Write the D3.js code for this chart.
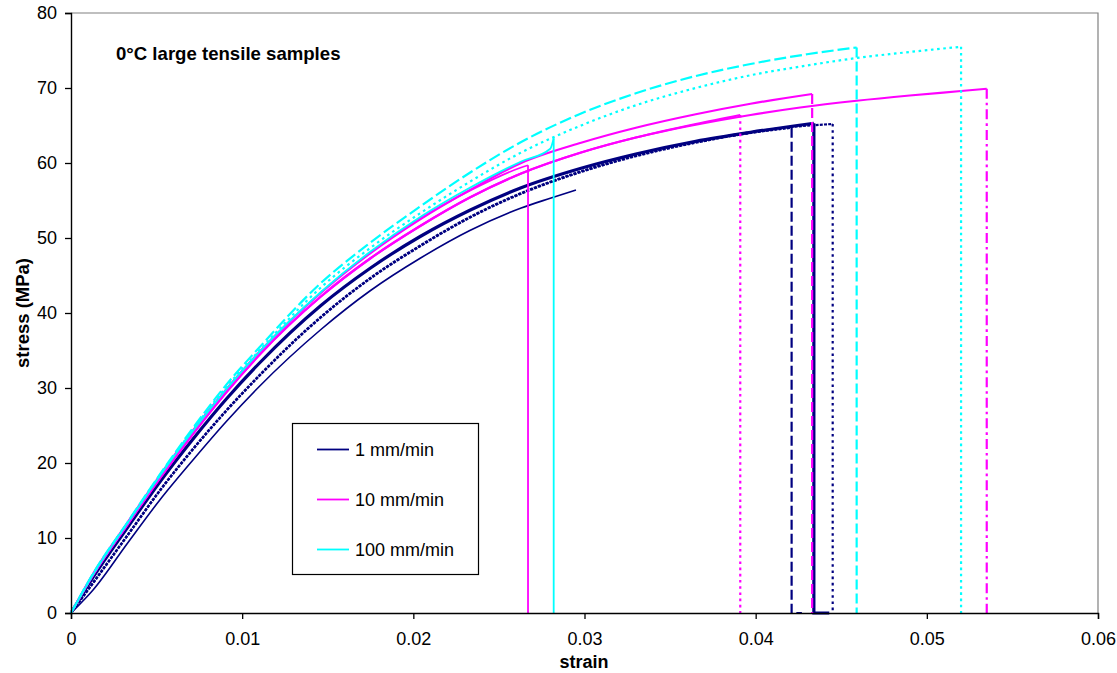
<html>
<script src='https://d3js.org/d3.v7.min.js'></script>
<style>
body {margin: 0; background: white;}
text {font-family: 'Liberation Sans', Arial, sans-serif;}
.tick text {font-size: 18px; fill: black;}
.tick line {stroke: black;}
.domain {stroke: black;}
</style>
<body>
<svg width=1117 height=673></svg>
<script>
// x ticks / y ticks
var xTicks = [0, 0.01, 0.02, 0.03, 0.04, 0.05, 0.06];
var yTicks = [0, 10, 20, 30, 40, 50, 60, 70, 80];

// legend groups
var rates = ["1 mm/min", "10 mm/min", "100 mm/min"];

// 1 mm/min, thick solid trace
var navyA = [[0,0],[0.0013,4.8],[0.0033,11.4],[0.0052,17.5],[0.0072,23.4],[0.0091,28.6],[0.011,33.3],[0.0146,41.0],[0.0175,46.0],[0.0204,50.2],[0.0233,53.7],[0.0263,56.7],[0.0298,59.3],[0.033,61.2],[0.0365,62.9],[0.0397,64.1],[0.0434,65.3],[0.0434,0],[0.0443,0]];
// 1 mm/min, dashed trace
var navyB = [[0,0],[0.0013,4.0],[0.0033,10.3],[0.0052,16.3],[0.0072,22.0],[0.0091,27.0],[0.011,31.6],[0.0146,39.4],[0.0175,44.6],[0.0204,48.9],[0.0233,52.7],[0.0263,55.9],[0.0298,58.8],[0.033,60.9],[0.0365,62.7],[0.0397,64.0],[0.0421,64.7],[0.0421,0],[0.0427,0]];
// 1 mm/min, dotted trace
var navyC = [[0,0],[0.0013,4.1],[0.0033,10.4],[0.0052,16.4],[0.0072,22.1],[0.0091,27.1],[0.011,31.7],[0.0146,39.5],[0.0175,44.7],[0.0204,49.0],[0.0233,52.8],[0.0263,56.0],[0.0298,58.9],[0.033,61.0],[0.0365,62.8],[0.0397,64.1],[0.0421,64.8],[0.0445,65.2],[0.0445,0]];
// 1 mm/min, thin trace (no break recorded)
var navyD = [[0,0],[0.0013,3.1],[0.0033,9.3],[0.0052,15.1],[0.0072,20.6],[0.0091,25.6],[0.011,30.2],[0.0146,37.8],[0.0175,43.0],[0.0204,47.3],[0.0233,51.0],[0.0263,54.0],[0.028,55.3],[0.0295,56.4]];

// 10 mm/min
var magE = [[0,0],[0.0013,5.2],[0.0033,12.0],[0.0052,18.3],[0.0072,24.5],[0.0091,29.9],[0.011,34.8],[0.0146,42.7],[0.0175,48.0],[0.0204,52.5],[0.0233,56.4],[0.0263,60.0],[0.0298,62.7],[0.033,64.7],[0.0365,66.5],[0.0397,67.9],[0.0433,69.2],[0.0433,0]];
var magF = [[0,0],[0.0013,5.3],[0.0033,12.1],[0.0052,18.4],[0.0072,24.6],[0.0091,29.9],[0.011,34.8],[0.0146,42.7],[0.0175,48.1],[0.0204,52.6],[0.0233,56.3],[0.0263,59.4],[0.0267,59.7],[0.0267,0]];
var magG = [[0,0],[0.0013,5.1],[0.0033,11.8],[0.0052,18.0],[0.0072,24.1],[0.0091,29.5],[0.011,34.4],[0.0146,42.2],[0.0175,47.3],[0.0204,51.6],[0.0233,55.4],[0.0263,58.6],[0.0298,61.4],[0.033,63.4],[0.0365,65.2],[0.0391,66.4],[0.0391,0]];
var magH = [[0,0],[0.0013,5.1],[0.0033,11.8],[0.0052,18.0],[0.0072,24.1],[0.0091,29.5],[0.011,34.4],[0.0146,42.2],[0.0175,47.3],[0.0204,51.6],[0.0233,55.4],[0.0263,58.6],[0.0298,61.4],[0.033,63.4],[0.0365,65.1],[0.0397,66.4],[0.0426,67.4],[0.0459,68.3],[0.049,69.0],[0.052,69.6],[0.0535,69.9],[0.0535,0]];

// 100 mm/min
var cyanI = [[0,0],[0.0013,5.2],[0.0033,12.0],[0.0052,18.3],[0.0072,24.5],[0.0091,29.9],[0.011,34.8],[0.0146,42.8],[0.0175,48.2],[0.0204,52.8],[0.0233,56.7],[0.0263,60.2],[0.028,61.9],[0.0282,63.3],[0.0282,0]];
var cyanJ = [[0,0],[0.0013,5.3],[0.0033,12.1],[0.0052,18.5],[0.0072,24.9],[0.0091,30.5],[0.011,35.4],[0.0146,44.0],[0.0175,49.4],[0.0204,54.2],[0.0233,58.7],[0.0263,62.8],[0.0298,66.6],[0.033,69.3],[0.0365,71.6],[0.0397,73.2],[0.043,74.5],[0.0459,75.4],[0.0459,0]];
var cyanK = [[0,0],[0.0013,5.2],[0.0033,12.0],[0.0052,18.4],[0.0072,24.7],[0.0091,30.2],[0.011,35.0],[0.0146,43.4],[0.0175,48.7],[0.0204,53.3],[0.0233,57.5],[0.0263,61.4],[0.0298,65.0],[0.033,67.7],[0.0365,70.0],[0.0397,71.7],[0.043,73.0],[0.0459,74.0],[0.049,74.8],[0.052,75.5],[0.052,0]];

var navy = "#000080", magenta = "#FF00FF", cyan = "#00FFFF";
var DASH = "10,4", DOT = "2.6,3.6", DASHDOT = "10,4,2.6,4", HATCH = "3,1.2";

// curveDash: pattern on the loading part, dash: pattern on the break
var series = [
  {pts: navyD, color: navy, w: 1.6, curveDash: null, dash: null},
  {pts: navyB, color: navy, w: 2.2, curveDash: HATCH, dash: DASH},
  {pts: navyC, color: navy, w: 2.2, curveDash: HATCH, dash: DOT},
  {pts: navyA, color: navy, w: 3.2, curveDash: null, dash: null},
  {pts: magG, color: magenta, w: 2.2, curveDash: null, dash: DOT},
  {pts: magH, color: magenta, w: 2.2, curveDash: null, dash: DASHDOT},
  {pts: magF, color: magenta, w: 1.8, curveDash: null, dash: null},
  {pts: magE, color: magenta, w: 2.2, curveDash: null, dash: DASH},
  {pts: cyanK, color: cyan, w: 2.2, curveDash: DOT, dash: DOT},
  {pts: cyanJ, color: cyan, w: 2.2, curveDash: "12,4", dash: DASH},
  {pts: cyanI, color: cyan, w: 1.8, curveDash: null, dash: null}
];

var svg = d3.select("svg");

var x = d3.scaleLinear().domain([0, 0.06]).range([71, 1098]);
var y = d3.scaleLinear().domain([0, 80]).range([613, 13]);

// plot area frame (top/right grey)
svg.append("path")
  .attr("d", "M" + x(0) + "," + y(80) + "H" + x(0.06) + "V" + y(0))
  .attr("fill", "none")
  .attr("stroke", "#808080")
  .attr("stroke-width", 1.2);

// split each trace into loading part and break part
function breakIndex(pts) {
  for (var i = 1; i < pts.length; i++) {
    if (pts[i][0] <= pts[i-1][0]) return i;
  }
  return pts.length;
}
var smooth = d3.line().x(d => x(d[0])).y(d => y(d[1])).curve(d3.curveMonotoneX);
var straight = d3.line().x(d => x(d[0])).y(d => y(d[1]));

var traces = svg.append("g");
series.forEach(function(s) {
  var k = breakIndex(s.pts);
  traces.append("path")
    .attr("d", smooth(s.pts.slice(0, k)))
    .attr("fill", "none")
    .attr("stroke", s.color)
    .attr("stroke-width", s.w)
    .attr("stroke-dasharray", s.curveDash)
    .attr("stroke-linejoin", "round");
  if (k < s.pts.length) {
    traces.append("path")
      .attr("d", straight(s.pts.slice(k - 1)))
      .attr("fill", "none")
      .attr("stroke", s.color)
      .attr("stroke-width", s.w)
      .attr("stroke-dasharray", s.dash);
  }
});

// axes
svg.append("g")
  .attr("transform", "translate(71,0)")
  .call(d3.axisLeft(y).tickValues(yTicks).tickSize(6).tickPadding(8).tickFormat(d3.format("d")));
svg.append("g")
  .attr("transform", "translate(0,613)")
  .call(d3.axisBottom(x).tickValues(xTicks).tickSize(6).tickPadding(13).tickFormat(d => d === 0 ? "0" : d3.format(".2f")(d)));

svg.selectAll(".domain").attr("stroke-width", 1.4);
svg.selectAll(".tick line").attr("stroke-width", 1.3);

// labels
svg.append("text")
  .attr("x", 584).attr("y", 668)
  .attr("text-anchor", "middle")
  .attr("font-weight", "bold").attr("font-size", "18px")
  .text("strain");
svg.append("text")
  .attr("transform", "translate(29,313) rotate(-90)")
  .attr("text-anchor", "middle")
  .attr("font-weight", "bold").attr("font-size", "18.5px")
  .text("stress (MPa)");
svg.append("text")
  .attr("x", 116).attr("y", 60)
  .attr("font-weight", "bold").attr("font-size", "18.6px")
  .text("0\u00B0C large tensile samples");

// legend
var legend = svg.append("g");
legend.append("rect")
  .attr("x", 292.5).attr("y", 423.5).attr("width", 186).attr("height", 151)
  .attr("fill", "white").attr("stroke", "black").attr("stroke-width", 1.2);
var legendColors = [navy, magenta, cyan];
legend.selectAll("g.item")
  .data(rates)
  .enter()
  .append("g")
    .attr("class", "item")
    .attr("transform", (d, i) => "translate(317," + (449.5 + i * 50) + ")")
    .each(function(d, i) {
      var g = d3.select(this);
      g.append("line").attr("x1", 0).attr("x2", 32).attr("y1", 0).attr("y2", 0)
        .attr("stroke", legendColors[i]).attr("stroke-width", 1.8);
      g.append("text").attr("x", 38).attr("y", 6.5).attr("font-size", "18px").text(d);
    });
</script>
</body>
</html>
